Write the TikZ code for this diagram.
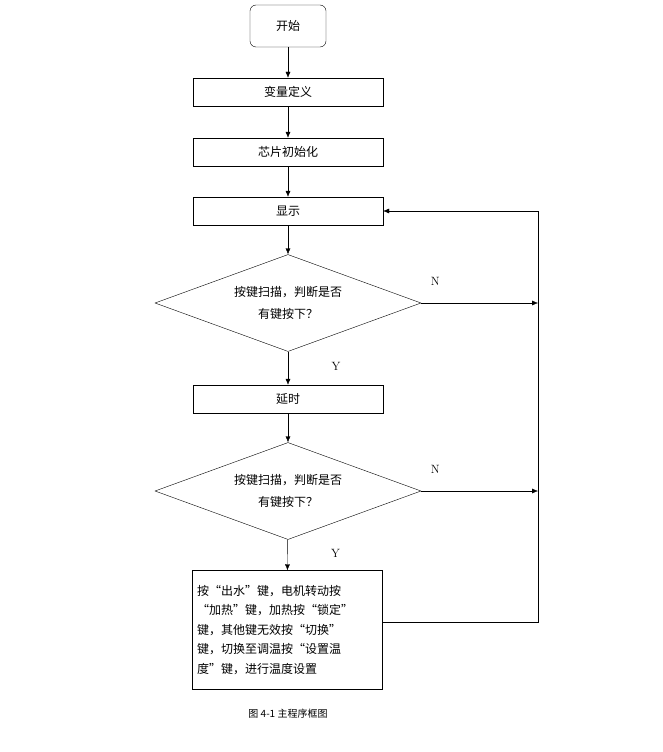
\documentclass[tikz,border=0pt]{standalone}
\usepackage{fontspec}
\newfontfamily\cjk{Noto Sans CJK SC}
\usetikzlibrary{arrows.meta,positioning,shapes.geometric}
\begin{document}
\begin{tikzpicture}[
    x=1pt, y=-1pt,
    font=\cjk\fontsize{12}{22}\selectfont,
    box/.style={draw, minimum width=190pt, minimum height=28pt, inner sep=2pt},
    startbox/.style={draw, rounded corners=6pt, minimum width=76pt, minimum height=42pt},
    decide/.style={draw, diamond, aspect=2.75, minimum width=266pt, minimum height=97pt, inner sep=0pt, align=center},
    arr/.style={-{Latex[length=6pt,width=5pt]}},
    lbl/.style={font=\rmfamily\fontsize{12}{14}\selectfont}
  ]
    \useasboundingbox (0,0) rectangle (663,752);
    \node[startbox] (start) at (288,26) {开始};
    \node[box] (vardef) at (288,92) {变量定义};
    \node[box] (chipinit) at (288,152) {芯片初始化};
    \node[box] (show) at (288,211) {显示};
    \node[decide] (scan1) at (288,303) {按键扫描，判断是否\\有键按下？};
    \node[box] (delay) at (288,399) {延时};
    \node[decide] (scan2) at (288,491) {按键扫描，判断是否\\有键按下？};
    \node[draw, minimum width=190pt, minimum height=119pt, text width=180pt, inner sep=4pt, align=left,
          font=\cjk\fontsize{12}{19.5}\selectfont] (keys) at (287,630)
      {按“出水”键，电机转动按\\“加热”键，加热按“锁定”\\键，其他键无效按“切换”\\键，切换至调温按“设置温\\度”键，进行温度设置};
    \node[font=\cjk\fontsize{10}{12}\selectfont] (caption) at (288,714) {图 4-1 主程序框图};

    \coordinate (j1) at (538,303);
    \coordinate (j2) at (538,491);
    \coordinate (loop) at (538,622);

    \draw[arr] (start) -- (vardef);
    \draw[arr] (vardef) -- (chipinit);
    \draw[arr] (chipinit) -- (show);
    \draw[arr] (show) -- (scan1);
    \draw[arr] (scan1) -- node[lbl, pos=0.45, right=40pt] {Y} (delay);
    \draw[arr] (delay) -- (scan2);
    \draw[arr] (scan2) -- node[lbl, pos=0.45, right=40pt] {Y} (keys);
    \draw[arr] (scan1.east) -- node[lbl, above=14pt, pos=0.12] {N} (j1);
    \draw[arr] (scan2.east) -- node[lbl, above=14pt, pos=0.12] {N} (j2);
    \draw[arr] (keys.east |- loop) -- (loop) -- (loop |- show.east) -- (show.east);
  \end{tikzpicture}
\end{document}
